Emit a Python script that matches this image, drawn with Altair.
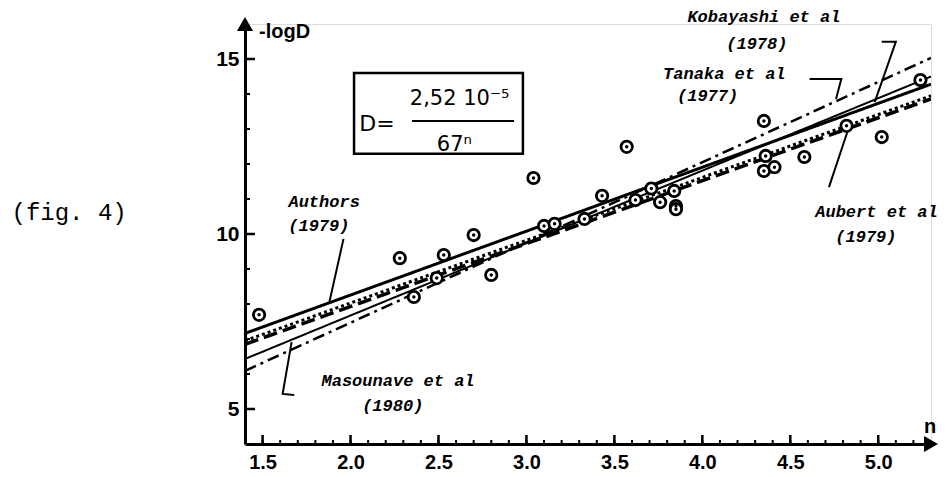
import altair as alt
import pandas as pd

# ---------------- data ----------------
n_pts = [1.48, 2.28, 2.36, 2.49, 2.53, 2.70, 2.80, 3.04, 3.10, 3.16, 3.33, 3.43,
         3.57, 3.62, 3.71, 3.76, 3.84, 3.85, 3.85, 4.35, 4.36, 4.35, 4.41, 4.58,
         4.82, 5.02, 5.24]
logd_pts = [7.69, 9.31, 8.20, 8.74, 9.40, 9.97, 8.83, 11.60, 10.23, 10.29, 10.43, 11.09,
            12.49, 10.97, 11.30, 10.91, 11.23, 10.80, 10.71, 13.23, 12.23, 11.80, 11.91, 12.20,
            13.09, 12.77, 14.40]

line_names = ["Authors", "Kobayashi", "Tanaka", "Aubert", "Masounave"]
line_n = [1.4, 5.3]
line_left = [7.16, 6.43, 6.09, 6.85, 6.95]
line_right = [14.28, 14.50, 15.03, 13.86, 13.95]
line_width = [3, 2, 2.5, 3.5, 3]
line_dash = [[1, 0], [1, 0], [12, 5, 3, 5], [14, 6], [3, 3]]

label_text = ["Kobayashi et al", "(1978)", "Tanaka et al", "(1977)", "Authors", "(1979)",
              "Masounave et al", "(1980)", "Aubert et al", "(1979)"]
label_n = [4.35, 4.31, 4.125, 4.03, 1.85, 1.82, 2.27, 2.24, 4.99, 4.93]
label_y = [16.2, 15.43, 14.57, 13.94, 10.91, 10.23, 5.80, 5.09, 10.63, 9.91]

leader_id = ["kob", "kob", "kob", "tan", "tan", "tan", "aut", "aut", "mas", "mas", "mas", "aub", "aub"]
leader_n = [5.02, 5.10, 4.98, 4.61, 4.79, 4.76, 1.96, 1.88, 1.665, 1.614, 1.68, 4.83, 4.72]
leader_y = [15.49, 15.49, 13.77, 14.43, 14.43, 13.86, 9.86, 8.06, 6.91, 5.43, 5.40, 13.0, 11.34]

x_domain = [1.4, 5.3]
y_domain = [4, 16]
x_major = [1.5, 2.0, 2.5, 3.0, 3.5, 4.0, 4.5, 5.0]
x_minor = [round(1.5 + 0.1 * i, 1) for i in range(38)]
y_major = [5, 10, 15]
y_minor = list(range(5, 16))

box_n = [2.02, 2.98]
box_y = [12.29, 14.6]
frac_n = [2.35, 2.93]
frac_y = 13.23

W, H = 686, 420

xs = alt.Scale(domain=x_domain, nice=False, zero=False)
ys = alt.Scale(domain=y_domain, nice=False, zero=False)

# ---------------- axes ----------------
axis_base = alt.Chart(pd.DataFrame({"n": [x_domain[0]], "v": [y_domain[0]]})).mark_point(opacity=0).encode(
    x=alt.X("n:Q", scale=xs, axis=alt.Axis(values=x_major, format=".1f", title=None, grid=False,
                                            ticks=False, domainWidth=3, domainColor="black",
                                            labelFont="Liberation Sans", labelFontWeight="bold",
                                            labelFontSize=20, labelColor="black", labelPadding=8)),
    y=alt.Y("v:Q", scale=ys, axis=alt.Axis(values=y_major, title=None, grid=False, ticks=False,
                                            domainWidth=3, domainColor="black",
                                            labelFont="Liberation Sans", labelFontWeight="bold",
                                            labelFontSize=21, labelColor="black", labelPadding=6)),
)

xmin_df = pd.DataFrame({"n": x_minor})
xmaj_df = pd.DataFrame({"n": x_major})
ymin_df = pd.DataFrame({"v": y_minor})
ymaj_df = pd.DataFrame({"v": y_major})

x_minor_ticks = alt.Chart(xmin_df).mark_rule(color="black", strokeWidth=2).encode(
    x=alt.X("n:Q", scale=xs), y=alt.value(H), y2=alt.value(H - 4))
x_major_ticks = alt.Chart(xmaj_df).mark_rule(color="black", strokeWidth=2.5).encode(
    x=alt.X("n:Q", scale=xs), y=alt.value(H), y2=alt.value(H - 9))
y_minor_ticks = alt.Chart(ymin_df).mark_rule(color="black", strokeWidth=2).encode(
    y=alt.Y("v:Q", scale=ys), x=alt.value(0), x2=alt.value(5))
y_major_ticks = alt.Chart(ymaj_df).mark_rule(color="black", strokeWidth=2.5).encode(
    y=alt.Y("v:Q", scale=ys), x=alt.value(0), x2=alt.value(10))

arrow_df = pd.DataFrame({"n": [x_domain[1], x_domain[0]], "v": [y_domain[0], y_domain[1]],
                         "s": ["triangle-right", "triangle-up"]})
arrows = alt.Chart(arrow_df).mark_point(filled=True, color="black", size=260, opacity=1).encode(
    x=alt.X("n:Q", scale=xs), y=alt.Y("v:Q", scale=ys),
    shape=alt.Shape("s:N", scale=None))

axis_titles = alt.Chart(pd.DataFrame({"n": [1.48, 5.26], "v": [15.77, 4.5], "t": ["-logD", "n"]})).mark_text(
    align="left", baseline="middle", font="Liberation Sans", fontWeight="bold", fontSize=20, color="black"
).encode(x=alt.X("n:Q", scale=xs), y=alt.Y("v:Q", scale=ys), text="t:N")

# ---------------- lines ----------------
line_layers = []
for i, name in enumerate(line_names):
    df = pd.DataFrame({"n": line_n, "v": [line_left[i], line_right[i]]})
    line_layers.append(
        alt.Chart(df).mark_line(color="black", strokeWidth=line_width[i], strokeDash=line_dash[i],
                                clip=True).encode(x=alt.X("n:Q", scale=xs), y=alt.Y("v:Q", scale=ys))
    )

# ---------------- points ----------------
pts_df = pd.DataFrame({"n": n_pts, "v": logd_pts})
rings = alt.Chart(pts_df).mark_point(shape="circle", size=130, filled=False, color="black",
                                     strokeWidth=2.8, fill="white", fillOpacity=1).encode(
    x=alt.X("n:Q", scale=xs), y=alt.Y("v:Q", scale=ys))
dots = alt.Chart(pts_df).mark_point(shape="circle", size=12, filled=True, color="black", opacity=1).encode(
    x=alt.X("n:Q", scale=xs), y=alt.Y("v:Q", scale=ys))

# ---------------- labels & leaders ----------------
lab_df = pd.DataFrame({"n": label_n, "v": label_y, "t": label_text})
labels = alt.Chart(lab_df).mark_text(font="Liberation Mono", fontStyle="italic", fontWeight="bold",
                                     fontSize=17, color="black", align="center", baseline="middle").encode(
    x=alt.X("n:Q", scale=xs), y=alt.Y("v:Q", scale=ys), text="t:N")

lead_df = pd.DataFrame({"id": leader_id, "n": leader_n, "v": leader_y, "o": list(range(len(leader_id)))})
leaders = alt.Chart(lead_df).mark_line(color="black", strokeWidth=2).encode(
    x=alt.X("n:Q", scale=xs), y=alt.Y("v:Q", scale=ys), detail="id:N", order="o:Q")

# ---------------- formula box ----------------
box = alt.Chart(pd.DataFrame({"n": [box_n[0]], "n2": [box_n[1]], "v": [box_y[0]], "v2": [box_y[1]]})).mark_rect(
    fill="white", stroke="black", strokeWidth=2.5).encode(
    x=alt.X("n:Q", scale=xs), x2="n2:Q", y=alt.Y("v:Q", scale=ys), y2="v2:Q")
frac = alt.Chart(pd.DataFrame({"n": [frac_n[0]], "n2": [frac_n[1]], "v": [frac_y]})).mark_rule(
    color="black", strokeWidth=2).encode(x=alt.X("n:Q", scale=xs), x2="n2:Q", y=alt.Y("v:Q", scale=ys))
formula_df = pd.DataFrame({"n": [2.05, 2.62, 2.59], "v": [13.14, 13.86, 12.54],
                           "t": ["D=", "2,52 10⁻⁵", "67ⁿ"]})
formula_left = alt.Chart(formula_df.iloc[[0]]).mark_text(
    font="DejaVu Sans", fontSize=22, color="black", align="left", baseline="middle").encode(
    x=alt.X("n:Q", scale=xs), y=alt.Y("v:Q", scale=ys), text="t:N")
formula_mid = alt.Chart(formula_df.iloc[[1, 2]]).mark_text(
    font="DejaVu Sans", fontSize=21, color="black", align="center", baseline="middle").encode(
    x=alt.X("n:Q", scale=xs), y=alt.Y("v:Q", scale=ys), text="t:N")

fig_label = alt.Chart(pd.DataFrame({"n": [0.4], "v": [10.6], "t": ["(fig. 4)"]})).mark_text(
    font="Liberation Mono", fontSize=24, color="black", align="center", baseline="middle").encode(
    x=alt.X("n:Q", scale=xs), y=alt.Y("v:Q", scale=ys), text="t:N")

chart = alt.layer(
    axis_base, x_minor_ticks, x_major_ticks, y_minor_ticks, y_major_ticks,
    *line_layers, leaders, rings, dots, box, frac, formula_left, formula_mid,
    labels, axis_titles, arrows, fig_label
).properties(
    width=W, height=H,
    autosize=alt.AutoSizeParams(type="none"),
    padding={"left": 237, "top": 16, "right": 10, "bottom": 30},
).configure_view(stroke=None).configure(background="white")

chart.save("out.html", embed_options={"renderer": "svg", "actions": False})
